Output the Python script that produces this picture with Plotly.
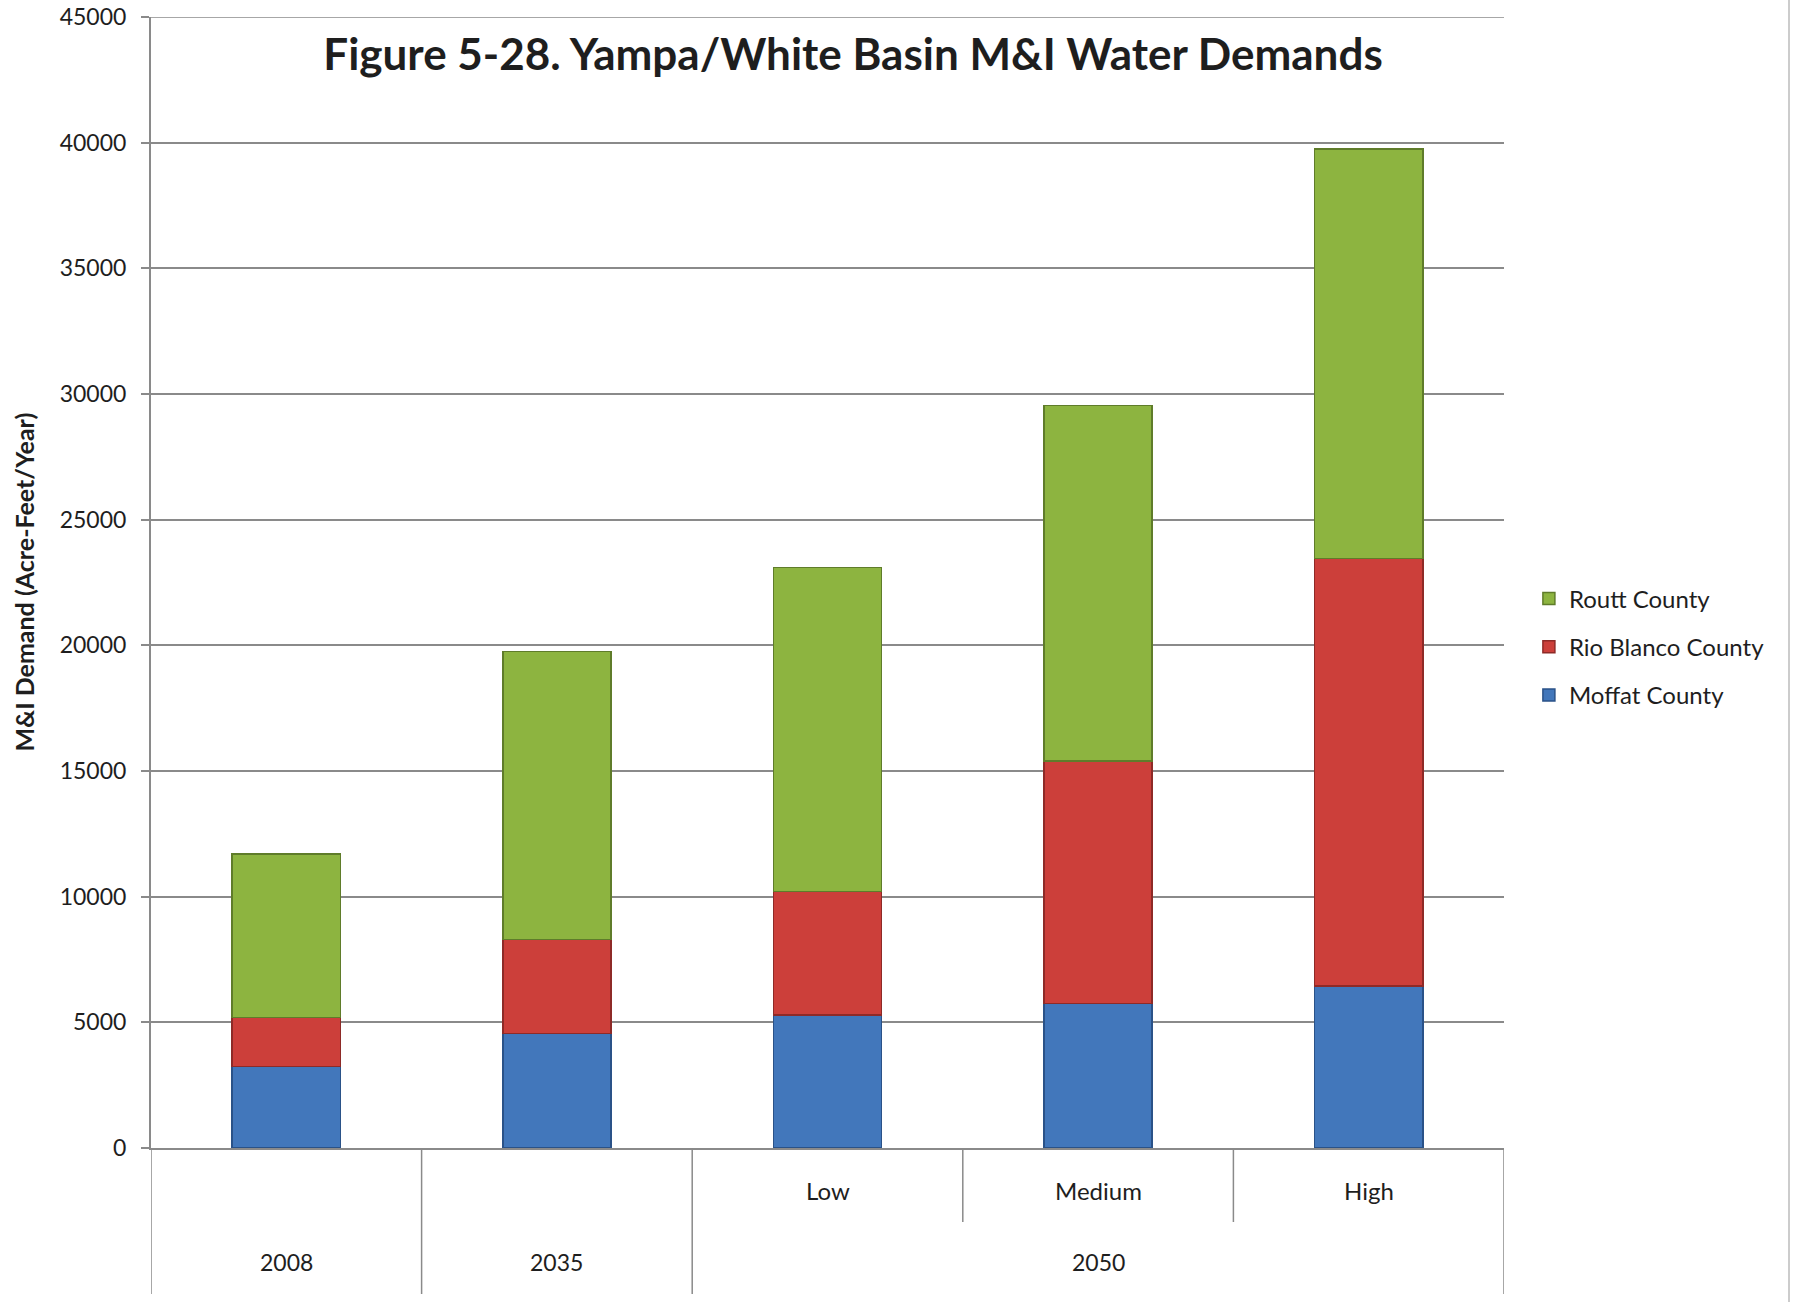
import plotly.graph_objects as go

# ---- data ----
categories = ["2008", "2035", "Low", "Medium", "High"]
inner_labels = ["", "", "Low", "Medium", "High"]
outer_groups = ["2008", "2035", "2050"]
outer_group_members = [["2008"], ["2035"], ["Low", "Medium", "High"]]

moffat = [3250, 4550, 5300, 5750, 6450]
rio_blanco = [1950, 3750, 4900, 9650, 17000]
routt = [6500, 11450, 12900, 14150, 16300]

series_names = ["Moffat County", "Rio Blanco County", "Routt County"]
series_values = [moffat, rio_blanco, routt]
y_ticks = [0, 5000, 10000, 15000, 20000, 25000, 30000, 35000, 40000, 45000]

# ---- styles ----
fill_colors = ["#4277BB", "#CC3F3A", "#8DB440"]
line_colors = ["#2A5288", "#8E2A27", "#5F7C2A"]
legend_ranks = [3, 2, 1]
grid_col = "#8A8A8A"
txt_col = "#1E1E1E"
FONT = "Lato"

fig = go.Figure()
for name, vals, fc, lc, rk in zip(series_names, series_values, fill_colors, line_colors, legend_ranks):
    fig.add_trace(go.Bar(
        x=categories, y=vals, name=name, legendgroup=name, legendrank=rk,
        marker=dict(color=fc, line=dict(color=lc, width=1.5)),
    ))

fig.update_layout(
    width=1793, height=1302,
    barmode="stack", bargap=0.6,
    plot_bgcolor="white", paper_bgcolor="white",
    margin=dict(l=151, r=289, t=17, b=154, autoexpand=False),
    font=dict(family=FONT, size=23, color=txt_col),
    title=dict(
        text="<b>Figure 5-28. Yampa/White Basin M&I Water Demands</b>",
        x=853 / 1793, xanchor="center", y=1 - 55 / 1302, yanchor="middle",
        font=dict(family=FONT, size=44, color=txt_col),
    ),
    legend=dict(
        x=1.0184, xanchor="left", y=0.443, yanchor="middle",
        traceorder="grouped", tracegroupgap=14,
        font=dict(family=FONT, size=24, color=txt_col),
        itemwidth=30, bgcolor="rgba(0,0,0,0)",
    ),
    showlegend=True,
)

fig.update_xaxes(
    type="category", categoryorder="array", categoryarray=categories,
    range=[-0.5, len(categories) - 0.5],
    showticklabels=False, ticks="", showgrid=False,
    showline=True, linecolor=grid_col, linewidth=2, zeroline=False,
)
fig.update_yaxes(
    range=[0, 45000], tickvals=y_ticks, ticktext=[str(v) for v in y_ticks],
    showgrid=True, gridcolor=grid_col, gridwidth=1.5,
    showline=True, linecolor=grid_col, linewidth=2,
    ticks="outside", ticklen=8, tickcolor=grid_col, tickwidth=1.5,
    ticklabelstandoff=10, ticklabeloverflow="allow", zeroline=False,
    tickfont=dict(family=FONT, size=23, color=txt_col),
)

# top gridline (sits on the edge of the plotting range)
fig.add_shape(type="line", xref="paper", yref="y", x0=0, x1=1,
              y0=y_ticks[-1], y1=y_ticks[-1], layer="below",
              line=dict(color=grid_col, width=1.5))

# y-axis title
fig.add_annotation(
    text="<b>M&I Demand (Acre-Feet/Year)</b>", textangle=-90,
    xref="paper", yref="paper", x=-0.0946, y=0.5,
    xanchor="center", yanchor="middle", showarrow=False,
    font=dict(family=FONT, size=25, color=txt_col),
)

# multi-level category labels and dividers
row1_y = (1148 - 1190) / 1131
row2_y = (1148 - 1262) / 1131
short_y = (1148 - 1222) / 1131
long_y = (1148 - 1294) / 1131

for cat, lab in zip(categories, inner_labels):
    if lab:
        fig.add_annotation(text=lab, x=cat, xref="x", y=row1_y, yref="paper",
                           showarrow=False, xanchor="center", yanchor="middle",
                           font=dict(family=FONT, size=24, color=txt_col))

idx = {c: i for i, c in enumerate(categories)}
for grp, members in zip(outer_groups, outer_group_members):
    center = (idx[members[0]] + idx[members[-1]]) / 2
    fig.add_annotation(text=grp, x=center, xref="x", y=row2_y, yref="paper",
                       showarrow=False, xanchor="center", yanchor="middle",
                       font=dict(family=FONT, size=23, color=txt_col))
    left = idx[members[0]] - 0.5
    fig.add_shape(type="line", xref="x", yref="paper", x0=left, x1=left,
                  y0=0, y1=long_y, line=dict(color=grid_col, width=1.5))
    for m in members[1:]:
        xx = idx[m] - 0.5
        fig.add_shape(type="line", xref="x", yref="paper", x0=xx, x1=xx,
                      y0=0, y1=short_y, line=dict(color=grid_col, width=1.5))
last = len(categories) - 0.5
fig.add_shape(type="line", xref="x", yref="paper", x0=last, x1=last,
              y0=0, y1=long_y, line=dict(color=grid_col, width=1.5))

# chart frame border at the right edge
fig.add_shape(type="line", xref="paper", yref="paper",
              x0=(1789 - 151) / 1353, x1=(1789 - 151) / 1353,
              y0=(1148 - 1302) / 1131, y1=(1148 - 0) / 1131,
              line=dict(color="#BBBBBB", width=1.5))

# remove the default page margin so the figure fills the window exactly
fig.write_html(
    "out.html",
    config={"displayModeBar": False},
    post_script="document.body.style.margin='0';document.body.style.overflow='hidden';",
)
